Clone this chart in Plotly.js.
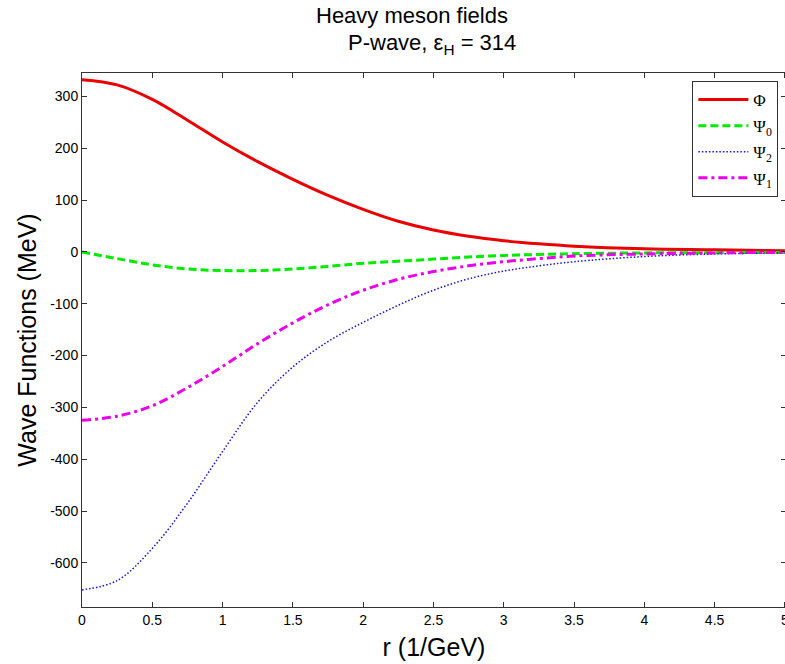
<!DOCTYPE html>
<html>
<head>
<meta charset="utf-8">
<script src="https://cdn.plot.ly/plotly-3.0.1.min.js"></script>
<style>
html,body{margin:0;padding:0;overflow:hidden;background:#fff;}
#chart{width:786px;height:664px;}
</style>
</head>
<body>
<div id="chart"></div>
<script>
// r (1/GeV)
const r = [0, 0.25, 0.5, 0.75, 1.0, 1.25, 1.5, 1.75, 2.0, 2.25, 2.5, 2.75, 3.0, 3.25, 3.5, 4.0, 4.5, 5.0];
// Wave functions (MeV)
const phi  = [332, 322, 294, 254, 212, 174, 140, 109, 82, 59, 42, 30, 21.5, 15.5, 11, 6, 4, 2];
const psi0 = [0, -13, -25, -33, -36, -36, -33, -28, -22, -18, -14, -10, -7, -5, -3.5, -2, -1.5, -1];
const psi2 = [-652, -634, -572, -485, -385, -290, -222, -173, -136, -103, -74, -52, -37, -27, -19, -9, -4, -2];
const psi1 = [-325, -317, -297, -262, -221, -177, -137, -102, -74, -53, -38, -27, -19, -13, -8, -4, -2, -1];

const names = ['Φ', 'Ψ<sub>0</sub>', 'Ψ<sub>2</sub>', 'Ψ<sub>1</sub>'];
const xTicks = [0, 0.5, 1, 1.5, 2, 2.5, 3, 3.5, 4, 4.5, 5];
const yTicks = [-600, -500, -400, -300, -200, -100, 0, 100, 200, 300];

const traces = [
  {x: r, y: phi,  name: names[0], legendgroup: 'a', mode: 'lines', line: {color: 'rgb(235,0,0)', width: 3, shape: 'spline'}},
  {x: r, y: psi0, name: names[1], legendgroup: 'b', mode: 'lines', line: {color: 'rgb(0,235,0)', width: 3, dash: '8px,4px', shape: 'spline'}},
  {x: r, y: psi2, name: names[2], legendgroup: 'c', mode: 'lines', line: {color: 'rgb(20,20,200)', width: 1.5, dash: '1.5px,2px', shape: 'spline'}},
  {x: r, y: psi1, name: names[3], legendgroup: 'd', mode: 'lines', line: {color: 'rgb(235,0,235)', width: 3, dash: '9px,4px,3px,4px', shape: 'spline'}}
];

const sans = 'Liberation Sans, Arial, sans-serif';
const axisCommon = {
  showline: true, linecolor: '#333', linewidth: 1, mirror: 'ticks',
  ticks: 'inside', ticklen: 5, tickcolor: '#333', tickwidth: 1,
  showgrid: false, zeroline: false, ticklabeloverflow: 'allow',
  tickfont: {family: sans, size: 14, color: '#000'}
};

const layout = {
  width: 786, height: 664,
  margin: {l: 82, r: 0, t: 73, b: 57},
  paper_bgcolor: '#fff', plot_bgcolor: '#fff',
  showlegend: true,
  xaxis: Object.assign({}, axisCommon, {
    range: [0, 5.008], tickvals: xTicks, ticktext: xTicks.map(String),
    title: {text: 'r (1/GeV)', font: {family: sans, size: 25, color: '#000'}, standoff: 11}
  }),
  yaxis: Object.assign({}, axisCommon, {
    range: [-685, 345], tickvals: yTicks, ticktext: yTicks.map(String),
    title: {text: 'Wave Functions (MeV)', font: {family: sans, size: 25, color: '#000'}, standoff: 6}
  }),
  legend: {
    x: 0.867, y: 0.985, xanchor: 'left', yanchor: 'top',
    bgcolor: '#fff', bordercolor: '#333', borderwidth: 1,
    traceorder: 'grouped', tracegroupgap: 1, itemwidth: 50,
    font: {family: 'Liberation Serif, Times New Roman, serif', size: 17, color: '#000'}
  },
  annotations: [
    {text: 'Heavy meson fields', xref: 'paper', yref: 'paper', x: 0.469, y: 1.1086, xanchor: 'center', yanchor: 'middle', showarrow: false,
     font: {family: sans, size: 22, color: '#000'}},
    {text: 'P-wave, ε<sub>H</sub> = 314', xref: 'paper', yref: 'paper', x: 0.497, y: 1.054, xanchor: 'center', yanchor: 'middle', showarrow: false,
     font: {family: sans, size: 22, color: '#000'}}
  ]
};

Plotly.newPlot('chart', traces, layout, {displayModeBar: false, staticPlot: true});
</script>
</body>
</html>
